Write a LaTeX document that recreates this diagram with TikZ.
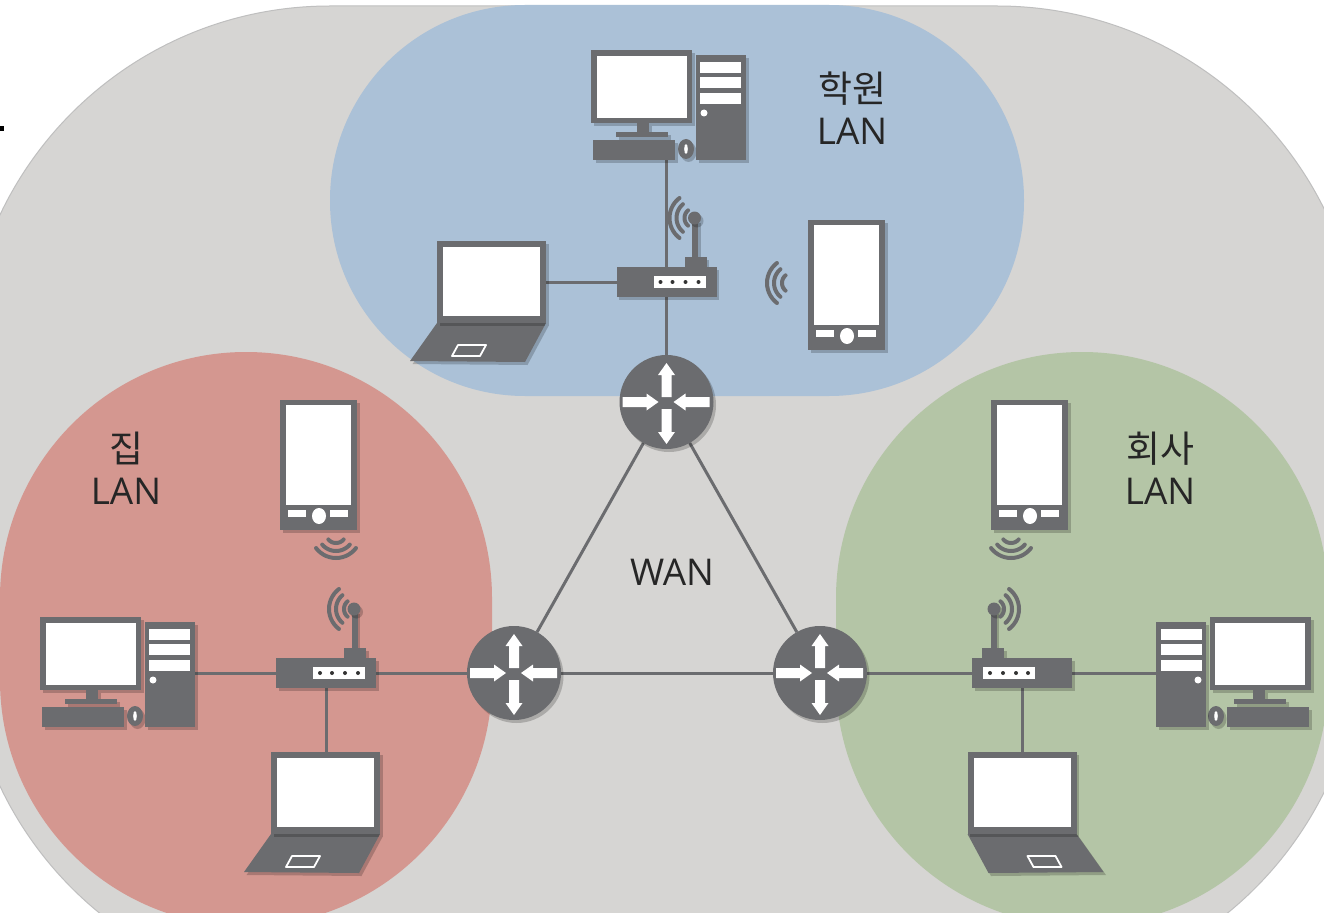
\documentclass[tikz,border=0pt]{standalone}
\usepackage{fontspec}
\setmainfont{Open Sans}
\newfontfamily\cjk{Noto Sans CJK KR}
\usetikzlibrary{backgrounds,shadows}
\definecolor{wancol}{HTML}{D6D5D3}
\definecolor{acadcol}{HTML}{ABC1D7}
\definecolor{homecol}{HTML}{D49790}
\definecolor{officecol}{HTML}{B4C5A6}
\definecolor{devcol}{HTML}{6B6C6F}
\def\pxu{0.02cm}
\tikzset{
  shade/.style={drop shadow={shadow xshift=0.05cm,shadow yshift=-0.06cm,opacity=0.2,fill=black}},
  dev/.style={fill=devcol,shade},
  devbox/.style={rectangle,inner sep=0pt,outer sep=0pt,dev},
  screen/.style={fill=white},
  link/.style={draw=devcol,line width=3*\pxu},
  wave/.style={draw=devcol,line width=4*\pxu,line cap=round,smooth},
  router/.style={circle,inner sep=0pt,outer sep=0pt,minimum size=94*\pxu,dev},
  lanlabel/.style={align=center,font=\fontsize{21}{24}\selectfont,text=black!85}
}
% three arcs around a point, #3 is the direction they open to
\newcommand{\waves}[3]{
  \foreach \rr/\ss in {25/53,18/50,10/50}{
    \draw[wave,domain=#3-\ss:#3+\ss,samples=15] plot ({#1+\rr*cos(\x)},{#2+\rr*sin(\x)});}
}
\newcommand{\pcicon}[4]{
  \begin{scope}[shift={(#2,#3)},xscale=#4]
    \node[devbox,minimum width=101*\pxu,minimum height=73*\pxu] (#1mon) at (50.5,36.5) {};
    \fill[screen] (6,6) rectangle (96,68);
    \fill[dev] (46,73) rectangle (58,82);
    \fill[dev] (25,82) rectangle (77,87);
    \node[devbox,minimum width=82*\pxu,minimum height=20*\pxu] (#1key) at (43,100) {};
    \fill[dev] (95,99) ellipse[x radius=8*\pxu,y radius=10*\pxu];
    \fill[screen] (95,99) ellipse[x radius=1.8*\pxu,y radius=5*\pxu];
    \node[devbox,minimum width=50*\pxu,minimum height=105*\pxu] (#1tow) at (130,57.5) {};
    \foreach \y in {12,27,43}{\fill[screen] (109,\y) rectangle (150,\y+11);}
    \fill[screen] (113,63) circle[radius=3.5*\pxu];
  \end{scope}
}
\newcommand{\hubicon}[4]{
  \begin{scope}[shift={(#2,#3)},xscale=#4]
    \fill[dev] (75.5,-47) rectangle (81.5,-10);
    \fill[dev] (78,-49) circle[radius=6.5*\pxu];
    \fill[dev] (68,-10) rectangle (90,0);
    \node[devbox,minimum width=100*\pxu,minimum height=30*\pxu] (#1) at (50,15) {};
    \fill[screen] (37,9) rectangle (89,21);
    \foreach \x in {44,56,69,82}{\fill[black!80] (\x,15) circle[radius=2*\pxu];}
    \waves{78}{-49}{180}
  \end{scope}
}
\newcommand{\lapicon}[4]{
  \begin{scope}[shift={(#2,#3)},xscale=#4]
    \fill[dev] (0,82) -- (109,82) -- (88,121) -- (-27,120) -- cycle;
    \draw[white,line width=1.8*\pxu] (21,104) -- (49,104) -- (43,115) -- (15,115) -- cycle;
    \node[devbox,minimum width=109*\pxu,minimum height=82*\pxu] (#1) at (54.5,41) {};
    \fill[screen] (6,6) rectangle (103,75);
  \end{scope}
}
\newcommand{\phoneicon}[3]{
  \begin{scope}[shift={(#2,#3)}]
    \node[devbox,minimum width=77*\pxu,minimum height=130*\pxu] (#1) at (38.5,65) {};
    \fill[screen] (6,5) rectangle (71,105);
    \fill[screen] (8,110) rectangle (26,117);
    \fill[screen] (50,110) rectangle (68,117);
    \fill[screen] (39,116) ellipse[x radius=7*\pxu,y radius=8*\pxu];
  \end{scope}
}
\newcommand{\routericon}[3]{
  \node[router] (#1) at (#2,#3) {};
  \foreach \a/\p/\h/\q in {90/5/27/39,-90/7/30/42,180/44/20/8,0/43/19/7}{
    \fill[white,shift={(#1)},rotate=\a] (\p,-5) -- (\h,-5) -- (\h,-8.5) -- (\q,0) -- (\h,8.5) -- (\h,5) -- (\p,5) -- cycle;}
}
\begin{document}
\begin{tikzpicture}[x=0.02cm,y=-0.02cm,line join=round]
\useasboundingbox (0,0) rectangle (1324,912);

% devices
\pcicon{acad}{591}{50}{1}
\pcicon{home}{40}{617}{1}
\pcicon{office}{1311}{617}{-1}
\hubicon{hubA}{616.5}{267}{1}
\hubicon{hubH}{276}{658}{1}
\hubicon{hubO}{1072}{658}{-1}
\lapicon{lapA}{437}{241}{1}
\lapicon{lapH}{271}{752}{1}
\lapicon{lapO}{1076.5}{752}{-1}
\phoneicon{phoneA}{808}{220}
\phoneicon{phoneH}{280}{400}
\phoneicon{phoneO}{991}{400}
\waves{792}{283}{180}
\waves{336}{533}{90}
\waves{1011}{533}{90}

\routericon{routA}{666.5}{402}
\routericon{routH}{514}{673}
\routericon{routO}{820}{673}

% labels
\node[lanlabel] (lblA) at (852,108) {{\cjk 학원}\\LAN};
\node[lanlabel] (lblH) at (126,468) {{\cjk 집}\\LAN};
\node[lanlabel] (lblO) at (1160,468) {{\cjk 회사}\\LAN};
\node[lanlabel] (lblW) at (672,572) {WAN};
\node[rectangle,fill=black,inner sep=0pt,minimum size=5*\pxu] (tick) at (1,129) {};

\begin{scope}[on background layer]
  \clip (0,0) rectangle (1324,912);
  \fill[white] (0,0) rectangle (1324,912);
  \fill[wancol,draw=black!25,line width=1*\pxu,rounded corners=7.3cm] (-35,6) rectangle (1362,995);
  \fill[acadcol,rounded corners=3.9cm] (330,5) rectangle (1024,396);
  \fill[homecol,rounded corners=4.92cm] (0,352) rectangle (492,926);
  \fill[officecol,rounded corners=4.92cm] (836,352) rectangle (1328,926);
\end{scope}

\begin{scope}[on background layer]
  \draw[link] (hubA.north) -- (hubA.north |- acadkey.south);
  \draw[link] (hubA) -- (routA);
  \draw[link] (lapA.east |- hubA) -- (hubA);
  \draw[link] (hometow.east |- hubH) -- (hubH);
  \draw[link] (hubH) -- (lapH.north -| hubH);
  \draw[link] (hubH) -- (routH);
  \draw[link] (routO) -- (hubO);
  \draw[link] (hubO) -- (officetow.west |- hubO);
  \draw[link] (hubO) -- (lapO.north -| hubO);
  \draw[link] (routA) -- (routH);
  \draw[link] (routA) -- (routO);
  \draw[link] (routH) -- (routO);
\end{scope}
\end{tikzpicture}
\end{document}
